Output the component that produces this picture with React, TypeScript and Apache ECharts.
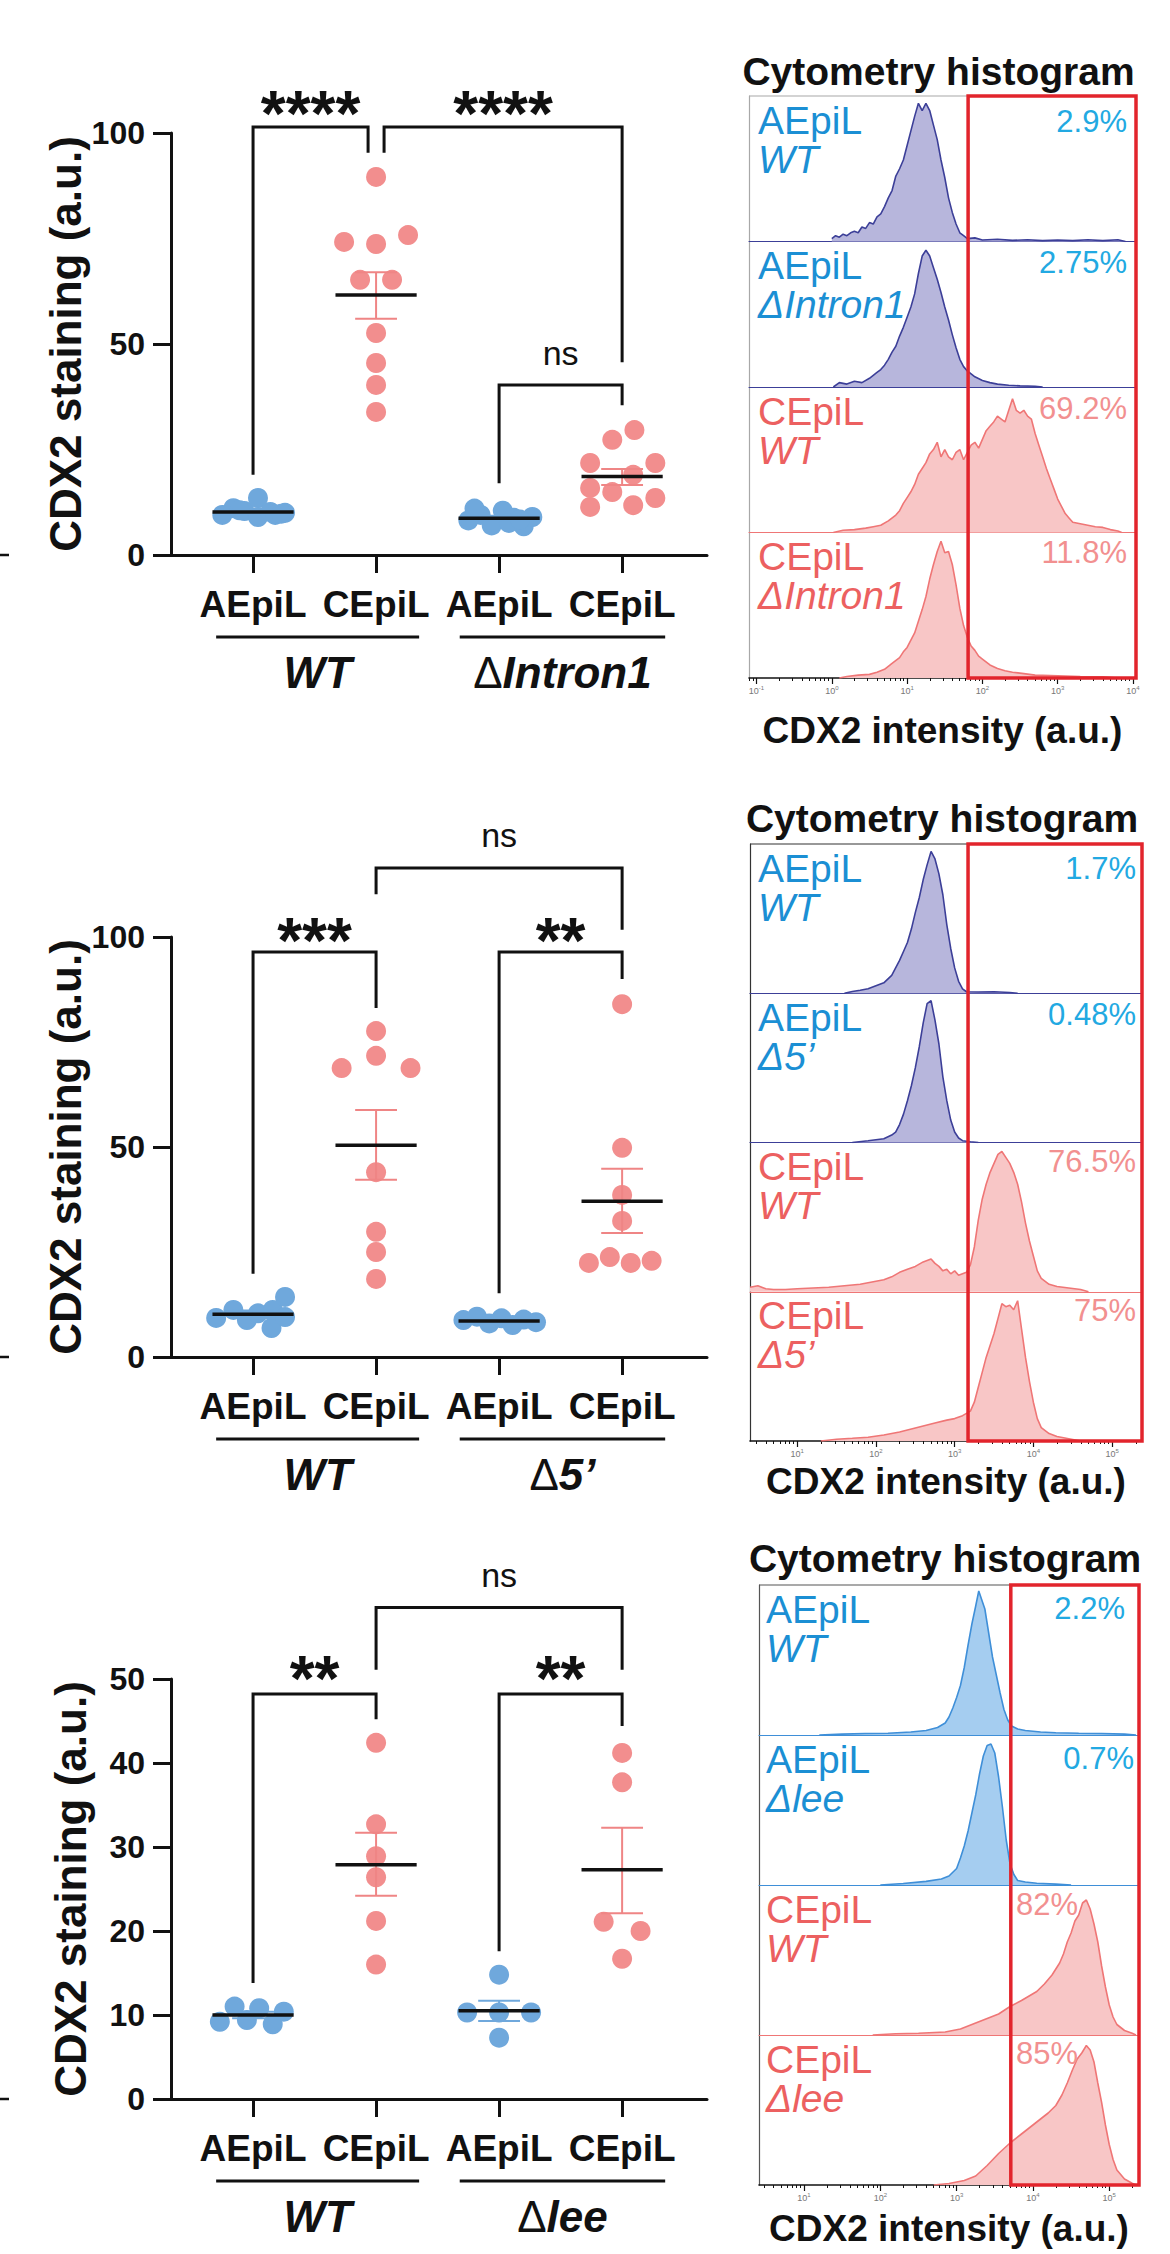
import React, { useEffect, useRef } from "react";
import * as echarts from "echarts";

const FONT = "'Liberation Sans', Arial, Helvetica, sans-serif";
const BLACK = "#111111";
const BLUE_PT = "#6fa8dc";
const PINK_PT = "#f28e8e";

// ---------------- scatter panels (data) ----------------
const categoryLabels = ["AEpiL", "CEpiL", "AEpiL", "CEpiL"];
const categoryIndex = [0, 1, 2, 3];
const panel1Groups = ["WT", "ΔIntron1"];
const panel2Groups = ["WT", "Δ5’"];
const panel3Groups = ["WT", "Δlee"];
const groupSpans = [
  [-0.3, 1.35, 0],
  [1.68, 3.35, 0],
];

// panel 1 (ΔIntron1)
const p1Values = [
  [9.5, 11.1, 10.4, 13.5, 9.0, 10.2, 10.0, 9.5, 10.6, 9.8],
  [89.6, 74.2, 73.7, 75.8, 65.2, 65.2, 52.6, 45.5, 40.3, 33.9],
  [8.2, 9.5, 7.0, 10.5, 8.8, 6.8, 9.0, 11.0, 7.6, 8.4],
  [29.6, 27.3, 21.8, 21.8, 19.0, 15.9, 14.9, 13.5, 11.4, 11.8],
];
const p1Jitter = [
  [-0.25, -0.16, -0.07, 0.04, 0.04, 0.14, 0.26, 0.18, -0.11, 0.23],
  [0, -0.26, 0, 0.26, -0.13, 0.13, 0, 0, 0, 0],
  [-0.25, -0.15, -0.06, 0.03, 0.12, 0.2, 0.27, -0.2, 0.08, 0.17],
  [0.1, -0.08, -0.26, 0.27, 0.09, -0.26, -0.08, 0.27, -0.26, 0.09],
];
const p1Mean = [10.2, 61.6, 8.7, 18.6];
const p1Low = [9.7, 56.0, 8.1, 16.6];
const p1High = [10.7, 67.0, 9.3, 20.4];
// [x1, x2, top, leftEnd, rightEnd, labelY]
const p1Brackets = [
  [0, 0.935, 101.4, 19, 95.3, 108.5],
  [1.065, 3, 101.4, 95.3, 45.7, 108.5],
  [2, 3, 40.3, 17, 35.5, 47.9],
];
const p1Marks = ["****", "****", "ns"];

// panel 2 (Δ5')
const p2Values = [
  [9.3, 11.2, 8.8, 10.4, 6.9, 11.2, 14.3, 9.5],
  [77.6, 71.7, 68.8, 68.8, 44.0, 29.8, 25.0, 18.6],
  [8.8, 9.6, 8.0, 9.2, 7.6, 8.9, 8.3],
  [84.0, 49.8, 38.6, 32.4, 22.4, 23.8, 22.4, 22.9],
];
const p2Jitter = [
  [-0.3, -0.16, -0.05, 0.04, 0.15, 0.16, 0.26, 0.26],
  [0, 0, -0.28, 0.28, 0, 0, 0, 0],
  [-0.29, -0.18, -0.08, 0.02, 0.11, 0.2, 0.3],
  [0, 0, 0, 0, -0.27, -0.1, 0.07, 0.24],
];
const p2Mean = [10.2, 50.4, 8.6, 37.1];
const p2Low = [9.3, 42.2, 8.2, 29.5];
const p2High = [11.1, 58.8, 9.0, 44.8];
const p2Brackets = [
  [0, 1, 96.4, 19.8, 83.1, 102.9],
  [2, 3, 96.4, 15.2, 90, 102.9],
  [1, 3, 116.4, 110.2, 101.7, 124.3],
];
const p2Marks = ["***", "**", "ns"];

// panel 3 (Δlee)
const p3Values = [
  [9.2, 11.0, 9.4, 10.8, 8.9, 10.4],
  [42.4, 32.7, 28.9, 26.4, 21.2, 16.0],
  [14.8, 10.3, 10.3, 10.3, 7.3],
  [41.2, 37.7, 21.1, 20.0, 16.7],
];
const p3Jitter = [
  [-0.27, -0.15, -0.05, 0.05, 0.16, 0.25],
  [0, 0, 0, 0, 0, 0],
  [0, -0.26, 0, 0.26, 0],
  [0, 0, -0.15, 0.15, 0],
];
const p3Mean = [10.0, 27.9, 10.5, 27.3];
const p3Low = [9.6, 24.2, 9.3, 22.1];
const p3High = [10.4, 31.7, 11.7, 32.3];
const p3Brackets = [
  [0, 1, 48.2, 13.8, 45.2, 52],
  [2, 3, 48.2, 17.6, 44.4, 52],
  [1, 3, 58.5, 51.1, 51.1, 62.4],
];
const p3Marks = ["**", "**", "ns"];

// ---------------- histograms (data: [log10 intensity, relative count]) ----------------
const histRowNames = ["AEpiL", "AEpiL", "CEpiL", "CEpiL"];
const h1Genotypes = ["WT", "ΔIntron1", "WT", "ΔIntron1"];
const h2Genotypes = ["WT", "Δ5’", "WT", "Δ5’"];
const h3Genotypes = ["WT", "Δlee", "WT", "Δlee"];
const h1Percents = ["2.9%", "2.75%", "69.2%", "11.8%"];
const h2Percents = ["1.7%", "0.48%", "76.5%", "75%"];
const h3Percents = ["2.2%", "0.7%", "82%", "85%"];
const gateLog = [1.81, 3.17, 3.71];
const h1Majors = [-1, 0, 1, 2, 3, 4];
const h2Majors = [1, 2, 3, 4, 5];
const h3Majors = [1, 2, 3, 4, 5];

const h1Row1 = [[0.0,0.02],[0.05,0.04],[0.1,0.03],[0.15,0.05],[0.2,0.04],[0.25,0.06],[0.3,0.07],[0.35,0.06],[0.4,0.1],[0.45,0.09],[0.5,0.13],[0.55,0.12],[0.6,0.17],[0.65,0.19],[0.7,0.24],[0.75,0.3],[0.8,0.35],[0.85,0.45],[0.9,0.5],[0.95,0.56],[1.0,0.66],[1.05,0.76],[1.1,0.86],[1.15,0.95],[1.2,0.9],[1.25,0.95],[1.3,0.9],[1.35,0.8],[1.4,0.7],[1.45,0.56],[1.5,0.44],[1.55,0.3],[1.6,0.2],[1.65,0.12],[1.7,0.06],[1.75,0.04],[1.8,0.02],[1.9,0.025],[2.0,0.01],[2.2,0.015],[2.4,0.008],[2.6,0.012],[2.8,0.006],[3.0,0.01],[3.2,0.006],[3.4,0.012],[3.6,0.006],[3.8,0.012],[3.9,0.0]];
const h1Row2 = [[0.02,0.0],[0.1,0.03],[0.2,0.02],[0.3,0.04],[0.4,0.03],[0.5,0.06],[0.55,0.08],[0.6,0.1],[0.65,0.12],[0.7,0.15],[0.75,0.19],[0.8,0.24],[0.85,0.28],[0.9,0.35],[0.95,0.41],[1.0,0.48],[1.05,0.55],[1.1,0.64],[1.15,0.78],[1.2,0.9],[1.25,0.94],[1.3,0.9],[1.35,0.82],[1.4,0.74],[1.45,0.65],[1.5,0.55],[1.55,0.46],[1.6,0.36],[1.65,0.27],[1.7,0.19],[1.75,0.14],[1.8,0.11],[1.85,0.09],[1.9,0.07],[2.0,0.045],[2.1,0.03],[2.2,0.02],[2.35,0.012],[2.5,0.008],[2.7,0.005],[2.8,0.0]];
const h1Row3 = [[0.02,0.0],[0.15,0.015],[0.3,0.02],[0.45,0.03],[0.55,0.04],[0.65,0.05],[0.75,0.08],[0.85,0.12],[0.9,0.15],[0.95,0.2],[1.0,0.24],[1.05,0.28],[1.1,0.33],[1.15,0.4],[1.2,0.44],[1.25,0.48],[1.3,0.54],[1.35,0.57],[1.4,0.62],[1.45,0.52],[1.5,0.57],[1.55,0.52],[1.6,0.5],[1.65,0.55],[1.7,0.57],[1.75,0.5],[1.8,0.55],[1.85,0.6],[1.9,0.62],[1.95,0.58],[2.0,0.64],[2.05,0.7],[2.1,0.73],[2.15,0.76],[2.2,0.8],[2.25,0.78],[2.3,0.76],[2.35,0.84],[2.4,0.92],[2.45,0.84],[2.5,0.82],[2.55,0.84],[2.6,0.8],[2.65,0.78],[2.7,0.68],[2.75,0.6],[2.8,0.52],[2.85,0.44],[2.9,0.37],[2.95,0.3],[3.0,0.23],[3.05,0.18],[3.1,0.13],[3.15,0.1],[3.2,0.07],[3.3,0.06],[3.4,0.05],[3.5,0.04],[3.6,0.035],[3.7,0.02],[3.8,0.01],[3.85,0.0]];
const h1Row4 = [[0.1,0.0],[0.2,0.01],[0.35,0.02],[0.5,0.025],[0.6,0.04],[0.7,0.06],[0.8,0.1],[0.9,0.14],[0.95,0.18],[1.0,0.21],[1.05,0.26],[1.1,0.31],[1.15,0.39],[1.2,0.47],[1.25,0.56],[1.3,0.68],[1.35,0.78],[1.4,0.87],[1.45,0.94],[1.5,0.86],[1.55,0.87],[1.6,0.78],[1.65,0.64],[1.7,0.48],[1.75,0.36],[1.8,0.28],[1.85,0.22],[1.9,0.19],[1.95,0.15],[2.0,0.13],[2.1,0.09],[2.2,0.065],[2.3,0.05],[2.4,0.04],[2.55,0.03],[2.7,0.02],[3.0,0.015],[3.3,0.01],[3.6,0.008],[3.8,0.0]];

const h2Row1 = [[1.6,0.0],[1.7,0.012],[1.8,0.02],[1.9,0.03],[2.0,0.05],[2.1,0.07],[2.2,0.12],[2.25,0.17],[2.3,0.22],[2.35,0.28],[2.4,0.34],[2.45,0.43],[2.5,0.54],[2.55,0.64],[2.6,0.76],[2.65,0.86],[2.7,0.95],[2.75,0.9],[2.8,0.8],[2.85,0.66],[2.9,0.46],[2.95,0.3],[3.0,0.17],[3.05,0.08],[3.1,0.03],[3.15,0.01],[3.3,0.008],[3.5,0.01],[3.7,0.005],[3.8,0.0]];
const h2Row2 = [[1.7,0.0],[1.9,0.012],[2.1,0.025],[2.2,0.05],[2.25,0.07],[2.3,0.12],[2.35,0.19],[2.4,0.28],[2.45,0.38],[2.5,0.5],[2.55,0.64],[2.6,0.8],[2.65,0.93],[2.7,0.95],[2.75,0.82],[2.8,0.66],[2.85,0.44],[2.9,0.28],[2.95,0.15],[3.0,0.07],[3.05,0.03],[3.1,0.012],[3.2,0.005],[3.3,0.0]];
const h2Row3 = [[0.4,0.03],[0.5,0.04],[0.6,0.02],[0.7,0.015],[0.85,0.015],[1.0,0.02],[1.2,0.025],[1.4,0.03],[1.6,0.04],[1.8,0.05],[1.95,0.065],[2.1,0.08],[2.2,0.1],[2.3,0.13],[2.4,0.15],[2.5,0.17],[2.6,0.2],[2.65,0.21],[2.7,0.22],[2.75,0.19],[2.8,0.17],[2.85,0.14],[2.9,0.15],[2.95,0.12],[3.0,0.14],[3.05,0.11],[3.1,0.12],[3.15,0.13],[3.2,0.18],[3.25,0.3],[3.3,0.48],[3.35,0.62],[3.4,0.72],[3.45,0.8],[3.5,0.86],[3.55,0.92],[3.6,0.94],[3.65,0.9],[3.7,0.86],[3.75,0.8],[3.8,0.72],[3.85,0.6],[3.9,0.46],[3.95,0.34],[4.0,0.24],[4.05,0.14],[4.1,0.09],[4.2,0.05],[4.3,0.035],[4.45,0.025],[4.6,0.015],[4.7,0.0]];
const h2Row4 = [[1.3,0.0],[1.5,0.012],[1.7,0.018],[1.9,0.025],[2.1,0.04],[2.3,0.06],[2.45,0.08],[2.6,0.1],[2.75,0.12],[2.9,0.14],[3.0,0.15],[3.1,0.17],[3.2,0.2],[3.25,0.26],[3.3,0.36],[3.35,0.46],[3.4,0.56],[3.45,0.64],[3.5,0.72],[3.55,0.82],[3.6,0.92],[3.65,0.9],[3.7,0.91],[3.75,0.88],[3.8,0.94],[3.85,0.75],[3.9,0.56],[3.95,0.4],[4.0,0.26],[4.05,0.15],[4.1,0.09],[4.2,0.05],[4.3,0.03],[4.45,0.015],[4.6,0.0]];

const h3Row1 = [[1.2,0.0],[1.5,0.006],[1.8,0.01],[2.1,0.012],[2.4,0.02],[2.6,0.03],[2.75,0.05],[2.85,0.08],[2.9,0.12],[2.95,0.18],[3.0,0.25],[3.05,0.33],[3.1,0.45],[3.15,0.6],[3.2,0.74],[3.25,0.86],[3.29,0.96],[3.33,0.9],[3.37,0.84],[3.42,0.68],[3.47,0.52],[3.52,0.4],[3.57,0.28],[3.62,0.17],[3.67,0.1],[3.72,0.06],[3.8,0.04],[3.9,0.03],[4.1,0.02],[4.3,0.015],[4.6,0.012],[4.9,0.01],[5.2,0.006],[5.35,0.0]];
const h3Row2 = [[2.0,0.0],[2.3,0.01],[2.6,0.024],[2.8,0.04],[2.9,0.06],[3.0,0.11],[3.05,0.18],[3.1,0.26],[3.15,0.36],[3.2,0.48],[3.25,0.6],[3.3,0.74],[3.35,0.86],[3.4,0.93],[3.45,0.94],[3.5,0.88],[3.55,0.72],[3.6,0.52],[3.65,0.3],[3.7,0.14],[3.75,0.07],[3.8,0.03],[3.9,0.02],[4.05,0.012],[4.3,0.006],[4.5,0.0]];
const h3Row3 = [[1.9,0.0],[2.2,0.008],[2.5,0.012],[2.85,0.02],[3.05,0.04],[3.25,0.08],[3.4,0.11],[3.55,0.14],[3.7,0.19],[3.85,0.23],[3.95,0.26],[4.05,0.29],[4.15,0.34],[4.25,0.4],[4.35,0.48],[4.4,0.54],[4.45,0.62],[4.5,0.68],[4.55,0.76],[4.6,0.8],[4.65,0.88],[4.7,0.9],[4.75,0.84],[4.8,0.74],[4.85,0.62],[4.9,0.46],[4.95,0.32],[5.0,0.2],[5.05,0.12],[5.1,0.07],[5.2,0.03],[5.3,0.012],[5.35,0.0]];
const h3Row4 = [[2.7,0.0],[2.9,0.01],[3.1,0.03],[3.25,0.06],[3.4,0.13],[3.55,0.21],[3.7,0.28],[3.85,0.34],[4.0,0.4],[4.1,0.44],[4.2,0.48],[4.3,0.53],[4.38,0.6],[4.45,0.68],[4.52,0.77],[4.58,0.84],[4.64,0.88],[4.7,0.93],[4.75,0.9],[4.8,0.82],[4.85,0.68],[4.9,0.55],[4.95,0.4],[5.0,0.27],[5.05,0.17],[5.1,0.1],[5.2,0.04],[5.3,0.012],[5.35,0.0]];

// ---------------- layout (pixels) ----------------
const SC_LEFT = 171;
const SC_WIDTH = 536;
const SC_XMIN = -0.667;
const SC_XMAX = 3.69;
const SCATTER_LAYOUT = [
  { top: 133, height: 422, max: 100, interval: 50, nameGap: 67 },
  { top: 937, height: 420, max: 100, interval: 50, nameGap: 67 },
  { top: 1679, height: 420, max: 50, interval: 10, nameGap: 79 },
];
const HIST_LAYOUT = [
  { left: 749, width: 387, top: 96, rowH: 145.5, xMin: -1.1, xMax: 4.04, titleY: 71, nameGap: 34, frame: "#a8a8a8",
    labelDx: 9, pctX: [378, 378, 378, 378], pctAlign: ["right", "right", "right", "right"], pctDy: [25, 21, 21, 20] },
  { left: 750, width: 392, top: 844, rowH: 149.25, xMin: 0.4, xMax: 5.38, titleY: 818, nameGap: 22, frame: "#333333",
    labelDx: 8, pctX: [386, 386, 386, 386], pctAlign: ["right", "right", "right", "right"], pctDy: [24, 21, 19, 19] },
  { left: 759, width: 380, top: 1585, rowH: 150, xMin: 0.41, xMax: 5.39, titleY: 1558, nameGap: 25, frame: "#555555",
    labelDx: 7, pctX: [366, 375, 257, 257], pctAlign: ["right", "right", "left", "left"], pctDy: [23, 23, 19, 18] },
];
const NAVY_LINE = "#3c3f98";
const NAVY_FILL = "#b7b6dc";
const SKY_LINE = "#3f8fd8";
const SKY_FILL = "#a5cdf0";
const ROSE_LINE = "#ef7676";
const ROSE_FILL = "#f8c6c6";
const TEXT_BLUE = "#1b8fd4";
const TEXT_PINK = "#ec6060";
const PCT_BLUE = "#22a9e2";
const PCT_PINK = "#f29090";

function minorTicks(min: number, max: number) {
  const out: number[] = [];
  for (let n = Math.floor(min) - 1; n <= Math.ceil(max); n++) {
    for (let k = 2; k <= 9; k++) {
      const v = n + Math.log10(k);
      if (v > min && v < max) out.push(v);
    }
  }
  return out;
}

export default function App() {
  const ref = useRef<HTMLDivElement>(null);

  useEffect(() => {
    if (!ref.current) return;
    const chart = echarts.init(ref.current, null, { renderer: "svg" });

    const grids: any[] = [];
    const xAxes: any[] = [];
    const yAxes: any[] = [];
    const extraX: any[] = [];
    const series: any[] = [];

    const panels = [
      { values: p1Values, jitter: p1Jitter, mean: p1Mean, low: p1Low, high: p1High, brackets: p1Brackets, marks: p1Marks, groups: panel1Groups },
      { values: p2Values, jitter: p2Jitter, mean: p2Mean, low: p2Low, high: p2High, brackets: p2Brackets, marks: p2Marks, groups: panel2Groups },
      { values: p3Values, jitter: p3Jitter, mean: p3Mean, low: p3Low, high: p3High, brackets: p3Brackets, marks: p3Marks, groups: panel3Groups },
    ];

    panels.forEach((p, k) => {
      const L = SCATTER_LAYOUT[k];
      grids.push({ left: SC_LEFT, top: L.top, width: SC_WIDTH, height: L.height, containLabel: false });
      xAxes.push({
        type: "value", gridIndex: k, min: SC_XMIN, max: SC_XMAX, position: "bottom",
        axisLine: { show: true, onZero: false, lineStyle: { color: BLACK, width: 3 } },
        axisTick: { show: true, customValues: categoryIndex, length: 18, lineStyle: { color: BLACK, width: 3 } },
        axisLabel: {
          show: true, customValues: categoryIndex, formatter: (v: number) => categoryLabels[Math.round(v)],
          margin: 31, fontSize: 37, fontWeight: "bold", color: BLACK, fontFamily: FONT,
        },
        splitLine: { show: false },
      });
      yAxes.push({
        type: "value", gridIndex: k, min: 0, max: L.max, interval: L.interval,
        name: "CDX2 staining (a.u.)", nameLocation: "middle", nameRotate: 90, nameGap: L.nameGap,
        nameTextStyle: { fontSize: 44, fontWeight: "bold", color: BLACK, fontFamily: FONT },
        axisLine: { show: true, onZero: false, lineStyle: { color: BLACK, width: 3 } },
        axisTick: { show: true, length: 18, lineStyle: { color: BLACK, width: 3 } },
        axisLabel: { margin: 26, fontSize: 32, fontWeight: "bold", color: BLACK, fontFamily: FONT },
        splitLine: { show: false },
      });

      p.values.forEach((vals, g) => {
        series.push({
          type: "scatter", xAxisIndex: k, yAxisIndex: k, symbol: "circle", symbolSize: 20, silent: true, z: 2,
          itemStyle: { color: g % 2 === 0 ? BLUE_PT : PINK_PT, opacity: 1 },
          data: vals.map((v, i) => [categoryIndex[g] + p.jitter[g][i], v]),
        });
      });

      // mean + SEM
      series.push({
        type: "custom", xAxisIndex: k, yAxisIndex: k, z: 6, silent: true,
        data: p.mean.map((m, g) => [categoryIndex[g], m, p.low[g], p.high[g]]),
        encode: { x: 0, y: [1, 2, 3] },
        renderItem: (params: any, api: any) => {
          const x = api.value(0), m = api.value(1), lo = api.value(2), hi = api.value(3);
          const color = params.dataIndex % 2 === 0 ? BLUE_PT : "#ef8585";
          const pm = api.coord([x, m]);
          const pl = api.coord([x, lo]);
          const ph = api.coord([x, hi]);
          const mL = api.coord([x - 0.33, m]);
          const mR = api.coord([x + 0.33, m]);
          const cL = api.coord([x - 0.17, lo]);
          const cR = api.coord([x + 0.17, lo]);
          return {
            type: "group",
            children: [
              { type: "line", shape: { x1: pl[0], y1: pl[1], x2: ph[0], y2: ph[1] }, style: { stroke: color, lineWidth: 2 } },
              { type: "line", shape: { x1: cL[0], y1: pl[1], x2: cR[0], y2: pl[1] }, style: { stroke: color, lineWidth: 2 } },
              { type: "line", shape: { x1: cL[0], y1: ph[1], x2: cR[0], y2: ph[1] }, style: { stroke: color, lineWidth: 2 } },
              { type: "line", shape: { x1: mL[0], y1: pm[1], x2: mR[0], y2: pm[1] }, style: { stroke: BLACK, lineWidth: 3.5 } },
            ],
          };
        },
      });

      // significance brackets
      series.push({
        type: "custom", xAxisIndex: k, yAxisIndex: k, z: 4, silent: true,
        data: p.brackets,
        encode: { x: [0, 1], y: [2, 3, 4, 5] },
        renderItem: (params: any, api: any) => {
          const x1 = api.value(0), x2 = api.value(1), top = api.value(2), yl = api.value(3), yr = api.value(4), ty = api.value(5);
          const a = api.coord([x1, yl]);
          const b = api.coord([x1, top]);
          const c = api.coord([x2, top]);
          const d = api.coord([x2, yr]);
          const t = api.coord([(x1 + x2) / 2, ty]);
          const txt = p.marks[params.dataIndex];
          const star = txt.indexOf("*") >= 0;
          const fs = star ? 64 : 34;
          return {
            type: "group",
            children: [
              { type: "polyline", shape: { points: [a, b, c, d] }, style: { stroke: BLACK, lineWidth: 3, fill: "none" } },
              {
                type: "text", x: t[0], y: t[1] + (star ? fs * 0.26 : 0),
                style: {
                  text: txt, fill: BLACK, fontSize: fs, fontWeight: star ? "bold" : "normal", fontFamily: FONT,
                  align: "center", verticalAlign: "middle", textAlign: "center", textVerticalAlign: "middle",
                },
              },
            ],
          };
        },
      });

      // group underline + genotype labels
      series.push({
        type: "custom", xAxisIndex: k, yAxisIndex: k, z: 4, silent: true,
        data: groupSpans,
        encode: { x: [0, 1], y: 2 },
        renderItem: (params: any, api: any) => {
          const p1 = api.coord([api.value(0), 0]);
          const p2 = api.coord([api.value(1), 0]);
          const y0 = p1[1];
          const label = p.groups[params.dataIndex];
          const rt = label.charAt(0) === "Δ" ? `{d|Δ}{i|${label.slice(1)}}` : `{i|${label}}`;
          return {
            type: "group",
            children: [
              { type: "line", shape: { x1: p1[0], y1: y0 + 82, x2: p2[0], y2: y0 + 82 }, style: { stroke: BLACK, lineWidth: 3 } },
              {
                type: "text", x: (p1[0] + p2[0]) / 2, y: y0 + 117,
                style: {
                  text: rt, fill: BLACK, align: "center", verticalAlign: "middle", textAlign: "center", textVerticalAlign: "middle",
                  rich: {
                    i: { fontSize: 44, fontWeight: "bold", fontStyle: "italic", fontFamily: FONT, fill: BLACK, color: BLACK },
                    d: { fontSize: 44, fontWeight: "normal", fontFamily: FONT, fill: BLACK, color: BLACK },
                  },
                },
              },
            ],
          };
        },
      });
    });

    // ---------- histograms ----------
    const histPanels = [
      { rows: [h1Row1, h1Row2, h1Row3, h1Row4], majors: h1Majors, blueLine: NAVY_LINE, blueFill: NAVY_FILL },
      { rows: [h2Row1, h2Row2, h2Row3, h2Row4], majors: h2Majors, blueLine: NAVY_LINE, blueFill: NAVY_FILL },
      { rows: [h3Row1, h3Row2, h3Row3, h3Row4], majors: h3Majors, blueLine: SKY_LINE, blueFill: SKY_FILL },
    ];
    const tickRich = {
      b: { fontSize: 9, color: "#777", fontFamily: FONT },
      s: { fontSize: 6, color: "#777", fontFamily: FONT, verticalAlign: "top", padding: [0, 0, 6, 0] },
    };
    histPanels.forEach((h, pi) => {
      const Lh = HIST_LAYOUT[pi];
      h.rows.forEach((rowData, r) => {
        const gi = grids.length;
        const last = r === 3;
        const blueRow = r < 2;
        const lineColor = blueRow ? h.blueLine : ROSE_LINE;
        const fillColor = blueRow ? h.blueFill : ROSE_FILL;
        grids.push({ left: Lh.left, top: Lh.top + r * Lh.rowH, width: Lh.width, height: Lh.rowH, containLabel: false });
        xAxes.push({
          type: "value", gridIndex: gi, min: Lh.xMin, max: Lh.xMax, position: "bottom",
          axisLine: { show: true, onZero: false, lineStyle: { color: last ? BLACK : lineColor, width: last ? 1.6 : 1 } },
          axisTick: { show: last, customValues: h.majors, length: 6, lineStyle: { color: BLACK, width: 1.2 } },
          axisLabel: {
            show: last, customValues: h.majors, margin: 7,
            formatter: (v: number) => `{b|10}{s|${Math.round(v)}}`, rich: tickRich,
          },
          splitLine: { show: false },
          name: last ? "CDX2 intensity (a.u.)" : "", nameLocation: "middle", nameGap: Lh.nameGap,
          nameTextStyle: { fontSize: 37, fontWeight: "bold", color: BLACK, fontFamily: FONT },
        });
        yAxes.push({
          type: "value", gridIndex: gi, min: 0, max: 1, position: "left",
          axisLine: { show: true, onZero: false, lineStyle: { color: Lh.frame, width: 1.2 } },
          axisTick: { show: false }, axisLabel: { show: false }, splitLine: { show: false },
        });
        series.push({
          type: "line", xAxisIndex: gi, yAxisIndex: gi, data: rowData, symbol: "none", silent: true, z: 2,
          lineStyle: { color: lineColor, width: 1.6 },
          areaStyle: { color: fillColor, opacity: 1 },
        });
        if (last) {
          extraX.push({
            type: "value", gridIndex: gi, min: Lh.xMin, max: Lh.xMax, position: "bottom", offset: 0,
            axisLine: { show: false, onZero: false },
            axisTick: { show: true, customValues: minorTicks(Lh.xMin, Lh.xMax), length: 3, lineStyle: { color: BLACK, width: 1 } },
            axisLabel: { show: false }, splitLine: { show: false },
          });
        }
      });
    });

    chart.setOption({
      animation: false,
      backgroundColor: "#ffffff",
      textStyle: { fontFamily: FONT },
      grid: grids,
      xAxis: [...xAxes, ...extraX],
      yAxis: yAxes,
      series,
    });

    // ---------- graphics placed through the axes' scales ----------
    const graphics: any[] = [];
    const genotypeSets = [h1Genotypes, h2Genotypes, h3Genotypes];
    const percentSets = [h1Percents, h2Percents, h3Percents];
    HIST_LAYOUT.forEach((Lh, pi) => {
      const g0 = 3 + pi * 4;
      const g3 = g0 + 3;
      const gx = chart.convertToPixel({ xAxisIndex: g0 } as any, gateLog[pi]) as any;
      const rx = chart.convertToPixel({ xAxisIndex: g0 } as any, Lh.xMax) as any;
      const lx = chart.convertToPixel({ xAxisIndex: g0 } as any, Lh.xMin) as any;
      const ty = chart.convertToPixel({ yAxisIndex: g0 } as any, 1) as any;
      const by = chart.convertToPixel({ yAxisIndex: g3 } as any, 0) as any;
      graphics.push({ type: "line", z: 90, shape: { x1: lx, y1: ty, x2: gx, y2: ty }, style: { stroke: Lh.frame, lineWidth: 1.2 } });
      graphics.push({
        type: "rect", z: 100, shape: { x: gx, y: ty, width: rx - gx, height: by - ty },
        style: { fill: "transparent", stroke: "#e2242c", lineWidth: 3.5 },
      });
      graphics.push({
        type: "text", z: 100, x: Lh.left + Lh.width / 2 - 4, y: Lh.titleY,
        style: { text: "Cytometry histogram", fill: BLACK, font: `bold 39px ${FONT}`, align: "center", verticalAlign: "middle", textAlign: "center", textVerticalAlign: "middle" },
      });
      for (let r = 0; r < 4; r++) {
        const rowTop = Lh.top + r * Lh.rowH;
        const blueRow = r < 2;
        graphics.push({
          type: "text", z: 100, x: Lh.left + Lh.labelDx, y: rowTop + 24,
          style: { text: histRowNames[r], fill: blueRow ? TEXT_BLUE : TEXT_PINK, font: `39px ${FONT}`, align: "left", verticalAlign: "middle", textAlign: "left", textVerticalAlign: "middle" },
        });
        graphics.push({
          type: "text", z: 100, x: Lh.left + Lh.labelDx, y: rowTop + 63,
          style: { text: genotypeSets[pi][r], fill: blueRow ? TEXT_BLUE : TEXT_PINK, font: `italic 39px ${FONT}`, align: "left", verticalAlign: "middle", textAlign: "left", textVerticalAlign: "middle" },
        });
        graphics.push({
          type: "text", z: 100, x: Lh.left + Lh.pctX[r], y: rowTop + Lh.pctDy[r],
          style: { text: percentSets[pi][r], fill: blueRow ? PCT_BLUE : PCT_PINK, font: `31px ${FONT}`, align: Lh.pctAlign[r], verticalAlign: "middle", textAlign: Lh.pctAlign[r], textVerticalAlign: "middle" },
        });
      }
    });
    SCATTER_LAYOUT.forEach((L, k) => {
      const y0 = chart.convertToPixel({ yAxisIndex: k } as any, 0) as any;
      graphics.push({ type: "line", z: 100, shape: { x1: 0, y1: y0, x2: 9, y2: y0 }, style: { stroke: BLACK, lineWidth: 2.5 } });
    });
    chart.setOption({ graphic: graphics });

    return () => {
      chart.dispose();
    };
  }, []);

  return (
    <div
      ref={ref}
      style={{ position: "absolute", left: 0, top: 0, width: 1170, height: 2254, background: "#fff" }}
    />
  );
}
